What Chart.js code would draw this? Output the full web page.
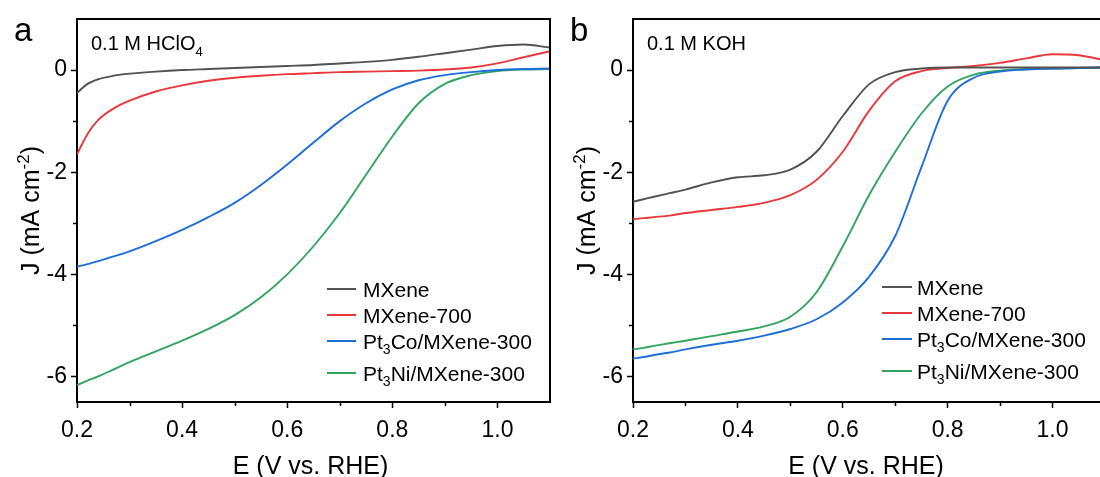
<!DOCTYPE html>
<html>
<head>
<meta charset="utf-8">
<script src="https://cdn.jsdelivr.net/npm/chart.js@4.4.1/dist/chart.umd.min.js"></script>
<style>
  html, body { margin: 0; padding: 0; background: #fff; width: 1100px; height: 477px; overflow: hidden; }
  .panel { position: absolute; top: 0; }
  #wrapA { left: 0; }
  #wrapB { left: 556px; }
</style>
</head>
<body>
<div id="wrapA" class="panel"><canvas id="chartA" width="560" height="477"></canvas></div>
<div id="wrapB" class="panel"><canvas id="chartB" width="560" height="477"></canvas></div>
<script>
// ---- data ----
const potential = [0.20,0.22,0.24,0.27,0.30,0.35,0.40,0.45,0.50,0.55,0.60,0.65,0.70,0.75,0.80,0.85,0.90,0.95,1.00,1.05,1.10];

const seriesNames = ['MXene', 'MXene-700', 'Pt_{3}Co/MXene-300', 'Pt_{3}Ni/MXene-300'];
const seriesColors = ['#525252', '#e8383d', '#1f6ed8', '#2fa560'];

// Panel a: 0.1 M HClO4
const acidMXene    = [-0.45,-0.27,-0.18,-0.11,-0.07,-0.03,0.00,0.02,0.04,0.06,0.08,0.10,0.13,0.16,0.20,0.26,0.33,0.40,0.47,0.50,0.44];
const acidMXene700 = [-1.65,-1.25,-0.98,-0.75,-0.60,-0.42,-0.30,-0.21,-0.15,-0.11,-0.08,-0.06,-0.04,-0.03,-0.02,-0.01,0.01,0.05,0.13,0.25,0.37];
const acidPt3Co    = [-3.85,-3.80,-3.74,-3.65,-3.55,-3.35,-3.13,-2.88,-2.60,-2.25,-1.85,-1.42,-1.00,-0.65,-0.38,-0.20,-0.10,-0.04,0.00,0.02,0.03];
const acidPt3Ni    = [-6.17,-6.08,-6.00,-5.86,-5.72,-5.51,-5.30,-5.07,-4.80,-4.45,-4.00,-3.45,-2.80,-2.05,-1.30,-0.65,-0.27,-0.10,-0.02,0.01,0.02];

// Panel b: 0.1 M KOH
const baseMXene    = [-2.58,-2.53,-2.48,-2.41,-2.34,-2.20,-2.10,-2.06,-1.95,-1.60,-0.90,-0.28,-0.04,0.03,0.05,0.05,0.05,0.05,0.05,0.05,0.05];
const baseMXene700 = [-2.92,-2.90,-2.88,-2.85,-2.80,-2.74,-2.68,-2.60,-2.45,-2.15,-1.60,-0.80,-0.22,-0.02,0.04,0.08,0.14,0.23,0.31,0.29,0.19];
const basePt3Co    = [-5.65,-5.62,-5.58,-5.53,-5.47,-5.38,-5.30,-5.20,-5.07,-4.88,-4.55,-4.05,-3.25,-1.90,-0.60,-0.15,-0.03,0.01,0.03,0.04,0.05];
const basePt3Ni    = [-5.47,-5.44,-5.40,-5.35,-5.30,-5.21,-5.12,-5.02,-4.83,-4.35,-3.45,-2.45,-1.60,-0.85,-0.32,-0.09,-0.01,0.02,0.03,0.04,0.05];

// ticks
const xMajorTicks = [0.2, 0.4, 0.6, 0.8, 1.0];
const xMinorTicks = [0.3, 0.5, 0.7, 0.9];
const yMajorTicks = [-6, -4, -2, 0];
const yMinorTicks = [-5, -3, -1];
const xRange = [0.2, 1.1];
const yRange = [-6.5, 1.0];

const panelLetters = ['a', 'b'];
const electrolytes = ['0.1 M HClO_{4}', '0.1 M KOH'];
const xTitle = 'E (V vs. RHE)';
const yTitle = 'J (mA cm^{-2})';

// ---- helpers ----
const FONT = "'Liberation Sans', Arial, sans-serif";

function parseRich(str) {
  const segs = [];
  const re = /([_^])\{([^}]*)\}/g;
  let last = 0, m;
  while ((m = re.exec(str)) !== null) {
    if (m.index > last) segs.push({ t: str.slice(last, m.index), k: 'n' });
    segs.push({ t: m[2], k: m[1] === '_' ? 'sub' : 'sup' });
    last = re.lastIndex;
  }
  if (last < str.length) segs.push({ t: str.slice(last), k: 'n' });
  return segs;
}
function richWidth(ctx, str, size) {
  let w = 0;
  for (const s of parseRich(str)) {
    ctx.font = (s.k === 'n' ? size : Math.round(size * 0.66)) + 'px ' + FONT;
    w += ctx.measureText(s.t).width;
  }
  return w;
}
function drawRich(ctx, str, x, y, size) {
  ctx.textBaseline = 'alphabetic';
  ctx.textAlign = 'left';
  let cx = x;
  for (const s of parseRich(str)) {
    const sz = s.k === 'n' ? size : Math.round(size * 0.66);
    ctx.font = sz + 'px ' + FONT;
    let dy = 0;
    if (s.k === 'sub') dy = size * 0.28;
    if (s.k === 'sup') dy = -size * 0.42;
    ctx.fillText(s.t, cx, y + dy);
    cx += ctx.measureText(s.t).width;
  }
}

const decorPlugin = {
  id: 'decor',
  afterDraw(chart, args, opts) {
    const ctx = chart.ctx;
    const a = chart.chartArea;
    const xs = chart.scales.x, ys = chart.scales.y;
    ctx.save();
    // frame top + right
    ctx.strokeStyle = '#000';
    ctx.lineWidth = 2;
    ctx.beginPath();
    ctx.moveTo(a.left, a.top); ctx.lineTo(a.right, a.top); ctx.lineTo(a.right, a.bottom);
    ctx.stroke();
    // minor ticks
    ctx.lineWidth = 1.5;
    ctx.beginPath();
    for (const v of xMinorTicks) {
      const px = Math.round(xs.getPixelForValue(v)) + 0.5;
      ctx.moveTo(px, a.bottom); ctx.lineTo(px, a.bottom + 4);
    }
    for (const v of yMinorTicks) {
      const py = Math.round(ys.getPixelForValue(v)) + 0.5;
      ctx.moveTo(a.left, py); ctx.lineTo(a.left - 4, py);
    }
    ctx.stroke();
    ctx.fillStyle = '#000';
    // panel letter
    ctx.font = '33px ' + FONT;
    ctx.textAlign = 'left'; ctx.textBaseline = 'alphabetic';
    ctx.fillText(opts.letter, 14, 41);
    // electrolyte
    drawRich(ctx, opts.electrolyte, a.left + 14, 50, 20);
    // x title
    const xtSize = 25;
    const xtw = richWidth(ctx, xTitle, xtSize);
    drawRich(ctx, xTitle, (a.left + a.right) / 2 - xtw / 2 - 3, 474, xtSize);
    // y title rotated
    ctx.save();
    const ytw = richWidth(ctx, yTitle, xtSize);
    ctx.translate(39, (a.top + a.bottom) / 2);
    ctx.rotate(-Math.PI / 2);
    drawRich(ctx, yTitle, -ytw / 2, 0, xtSize);
    ctx.restore();
    // legend
    const L = opts.legend;
    chart.data.datasets.forEach((ds, i) => {
      const y = L.rows[i];
      ctx.strokeStyle = ds.borderColor;
      ctx.lineWidth = 2;
      ctx.beginPath();
      ctx.moveTo(L.x0, y); ctx.lineTo(L.x1, y);
      ctx.stroke();
      ctx.fillStyle = '#000';
      drawRich(ctx, seriesNames[i], L.tx, y + 7.5, 21);
    });
    ctx.restore();
  }
};

function makeChart(id, series, letter, electrolyte, legend) {
  const datasets = series.map((vals, i) => ({
    label: seriesNames[i],
    data: potential.map((e, j) => ({ x: e, y: vals[j] })),
    borderColor: seriesColors[i],
    backgroundColor: seriesColors[i],
    borderWidth: 1.9,
    pointRadius: 0,
    tension: 0.4,
    cubicInterpolationMode: 'monotone',
    fill: false
  }));
  return new Chart(document.getElementById(id), {
    type: 'line',
    data: { datasets },
    options: {
      responsive: false,
      animation: false,
      devicePixelRatio: 1,
      layout: { padding: { left: 0, right: id === 'chartA' ? 10 : 11, top: 19, bottom: 0 } },
      plugins: {
        legend: { display: false },
        tooltip: { enabled: false },
        decor: { letter, electrolyte, legend }
      },
      scales: {
        x: {
          type: 'linear', min: xRange[0], max: xRange[1],
          afterBuildTicks: s => { s.ticks = xMajorTicks.map(v => ({ value: v })); },
          afterFit: s => { s.height = 75; },
          ticks: {
            color: '#000', font: { family: FONT, size: 23 }, padding: 9,
            callback: v => Number(v).toFixed(1), maxRotation: 0
          },
          grid: { display: true, drawOnChartArea: false, drawTicks: true, tickLength: 6, tickColor: '#000', tickWidth: 1.5 },
          border: { display: true, color: '#000', width: 2 }
        },
        y: {
          type: 'linear', min: yRange[0], max: yRange[1],
          afterBuildTicks: s => { s.ticks = yMajorTicks.map(v => ({ value: v })); },
          afterFit: s => { s.width = 77; },
          ticks: {
            color: '#000', font: { family: FONT, size: 23 }, padding: 4,
            callback: v => String(v)
          },
          grid: { display: true, drawOnChartArea: false, drawTicks: true, tickLength: 6, tickColor: '#000', tickWidth: 1.5 },
          border: { display: true, color: '#000', width: 2 }
        }
      }
    },
    plugins: [decorPlugin]
  });
}

makeChart('chartA', [acidMXene, acidMXene700, acidPt3Co, acidPt3Ni], panelLetters[0], electrolytes[0],
  { x0: 327, x1: 356, tx: 363, rows: [289, 315, 341, 373] });
makeChart('chartB', [baseMXene, baseMXene700, basePt3Co, basePt3Ni], panelLetters[1], electrolytes[1],
  { x0: 326, x1: 356, tx: 361, rows: [287, 313, 339, 371] });
</script>
</body>
</html>
